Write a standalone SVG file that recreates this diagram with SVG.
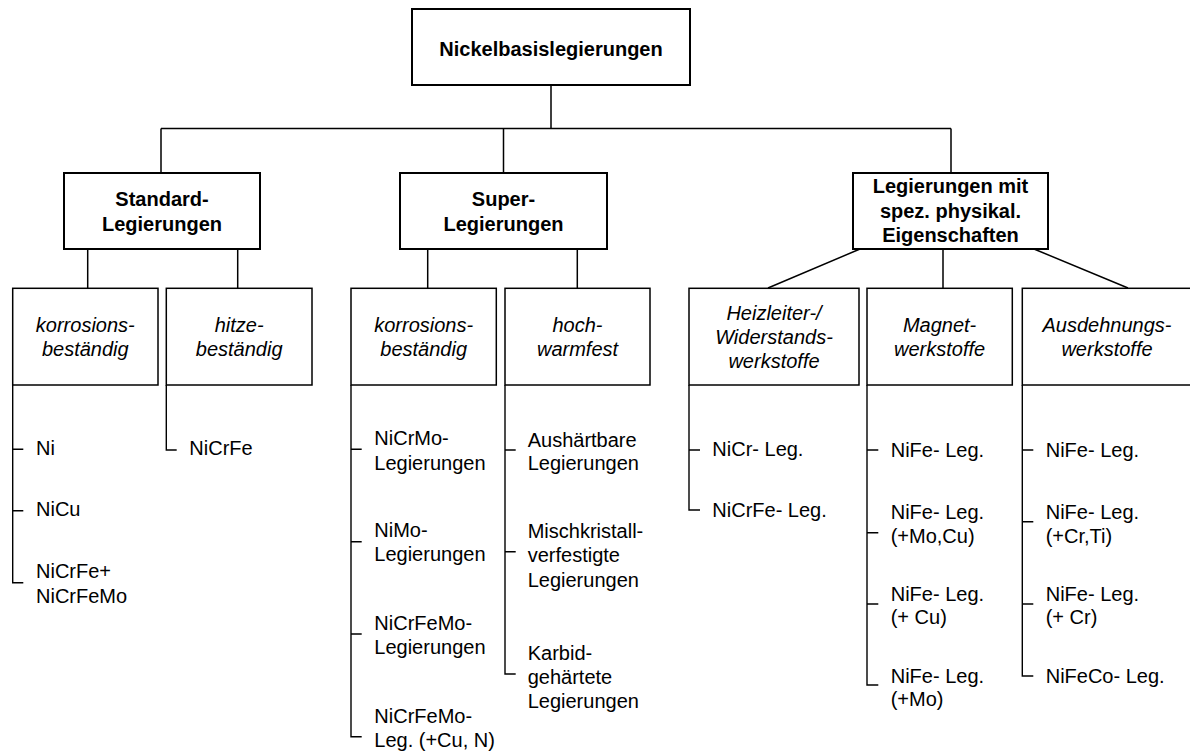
<svg xmlns="http://www.w3.org/2000/svg" width="1190" height="751" viewBox="0 0 1190 751">
<style>
.bg{fill:#ffffff}
.main{fill:#ffffff;stroke:#000;stroke-width:2}
.sub{fill:#ffffff;stroke:#000;stroke-width:1.5}
.con{fill:none;stroke:#000;stroke-width:1.5}
.tree{fill:none;stroke:#000;stroke-width:1.4}
text{font-family:"Liberation Sans",Arial,Helvetica,sans-serif;font-size:20px;fill:#000}
.b{font-weight:bold;text-anchor:middle}
.i{font-style:italic;text-anchor:middle}
.l{text-anchor:start}
</style>
<rect class="bg" x="0" y="0" width="1190" height="751"/>
<g id="connectors">
<path class="con" d="M551 85V128.5M161 128.5H951M161 128.5V173M503.5 128.5V173M951 128.5V173"/>
<path class="con" d="M87.7 249V288M237.7 249V288M427.7 249V288M577.3 249V288M860 249L768 288M943 249V288M1034 249L1128 288"/>
<path class="tree" d="M12.7 385V582.7H23.3M12.7 449.3H23.3M12.7 510.7H23.3"/>
<path class="tree" d="M166.3 385V450H176.7"/>
<path class="tree" d="M351 385V736.7H361.7M351 449.3H361.7M351 541.7H361.7M351 634H361.7"/>
<path class="tree" d="M505 385V674H515.7M505 450H515.7M505 551.7H515.7"/>
<path class="tree" d="M689 385V510H700M689 450H700"/>
<path class="tree" d="M867 385V685H878.3M867 450H878.3M867 532.7H878.3M867 604H878.3"/>
<path class="tree" d="M1022.3 385V676H1033.3M1022.3 450H1033.3M1022.3 521.7H1033.3M1022.3 604H1033.3"/>
</g>
<g id="root">
<rect class="main" x="412" y="9" width="278" height="76"/>
<text class="b" x="551" y="56">Nickelbasislegierungen</text>
</g>
<g id="standard">
<rect class="main" x="64" y="173" width="196" height="76"/>
<text class="b" x="162" y="205.5">Standard-</text>
<text class="b" x="162" y="230.5">Legierungen</text>
</g>
<g id="super">
<rect class="main" x="400" y="173" width="207" height="76"/>
<text class="b" x="503.5" y="205.5">Super-</text>
<text class="b" x="503.5" y="230.5">Legierungen</text>
</g>
<g id="physikal">
<rect class="main" x="853" y="173" width="195" height="76"/>
<text class="b" x="950.5" y="193.3">Legierungen mit</text>
<text class="b" x="950.5" y="217.8">spez. physikal.</text>
<text class="b" x="950.5" y="242.3">Eigenschaften</text>
</g>
<g id="std-korrosion">
<rect class="sub" x="12.7" y="288.3" width="145.3" height="96.7"/>
<text class="i" x="85.3" y="331.7">korrosions-</text>
<text class="i" x="85.3" y="356">beständig</text>
<text class="l" x="36" y="455">Ni</text>
<text class="l" x="36" y="516">NiCu</text>
<text class="l" x="36" y="578.3">NiCrFe+</text>
<text class="l" x="36" y="602.7">NiCrFeMo</text>
</g>
<g id="std-hitze">
<rect class="sub" x="166.3" y="288.3" width="145.7" height="96.7"/>
<text class="i" x="239.2" y="331.7">hitze-</text>
<text class="i" x="239.2" y="356">beständig</text>
<text class="l" x="189.3" y="455">NiCrFe</text>
</g>
<g id="sup-korrosion">
<rect class="sub" x="351" y="288.3" width="145.3" height="96.7"/>
<text class="i" x="423.7" y="331.7">korrosions-</text>
<text class="i" x="423.7" y="356">beständig</text>
<text class="l" x="374.3" y="445">NiCrMo-</text>
<text class="l" x="374.3" y="469.5">Legierungen</text>
<text class="l" x="374.3" y="536.7">NiMo-</text>
<text class="l" x="374.3" y="561">Legierungen</text>
<text class="l" x="374.3" y="629.5">NiCrFeMo-</text>
<text class="l" x="374.3" y="653.5">Legierungen</text>
<text class="l" x="374.3" y="723">NiCrFeMo-</text>
<text class="l" x="374.3" y="747">Leg. (+Cu, N)</text>
</g>
<g id="sup-hochwarmfest">
<rect class="sub" x="505" y="288.3" width="145" height="96.7"/>
<text class="i" x="577.5" y="331.7">hoch-</text>
<text class="i" x="577.5" y="356">warmfest</text>
<text class="l" x="527.7" y="446.5">Aushärtbare</text>
<text class="l" x="527.7" y="470">Legierungen</text>
<text class="l" x="527.7" y="538">Mischkristall-</text>
<text class="l" x="527.7" y="562">verfestigte</text>
<text class="l" x="527.7" y="586.5">Legierungen</text>
<text class="l" x="527.7" y="660">Karbid-</text>
<text class="l" x="527.7" y="684">gehärtete</text>
<text class="l" x="527.7" y="708">Legierungen</text>
</g>
<g id="heizleiter">
<rect class="sub" x="689" y="288.3" width="170" height="96.7"/>
<text class="i" x="774" y="320">Heizleiter-/</text>
<text class="i" x="774" y="344.3">Widerstands-</text>
<text class="i" x="774" y="368.3">werkstoffe</text>
<text class="l" x="712.3" y="455.5">NiCr- Leg.</text>
<text class="l" x="712.3" y="516.5">NiCrFe- Leg.</text>
</g>
<g id="magnet">
<rect class="sub" x="867" y="288.3" width="145.3" height="96.7"/>
<text class="i" x="939.6" y="331.7">Magnet-</text>
<text class="i" x="939.6" y="356">werkstoffe</text>
<text class="l" x="890.7" y="456.5">NiFe- Leg.</text>
<text class="l" x="890.7" y="518.5">NiFe- Leg.</text>
<text class="l" x="890.7" y="542.5">(+Mo,Cu)</text>
<text class="l" x="890.7" y="600.5">NiFe- Leg.</text>
<text class="l" x="890.7" y="624">(+ Cu)</text>
<text class="l" x="890.7" y="682.5">NiFe- Leg.</text>
<text class="l" x="890.7" y="706">(+Mo)</text>
</g>
<g id="ausdehnung">
<rect class="sub" x="1022.3" y="288.3" width="170" height="96.7"/>
<text class="i" x="1107" y="331.7">Ausdehnungs-</text>
<text class="i" x="1107" y="356">werkstoffe</text>
<text class="l" x="1045.7" y="456.5">NiFe- Leg.</text>
<text class="l" x="1045.7" y="518.5">NiFe- Leg.</text>
<text class="l" x="1045.7" y="542.5">(+Cr,Ti)</text>
<text class="l" x="1045.7" y="600.5">NiFe- Leg.</text>
<text class="l" x="1045.7" y="624">(+ Cr)</text>
<text class="l" x="1045.7" y="682.5">NiFeCo- Leg.</text>
</g>
</svg>
